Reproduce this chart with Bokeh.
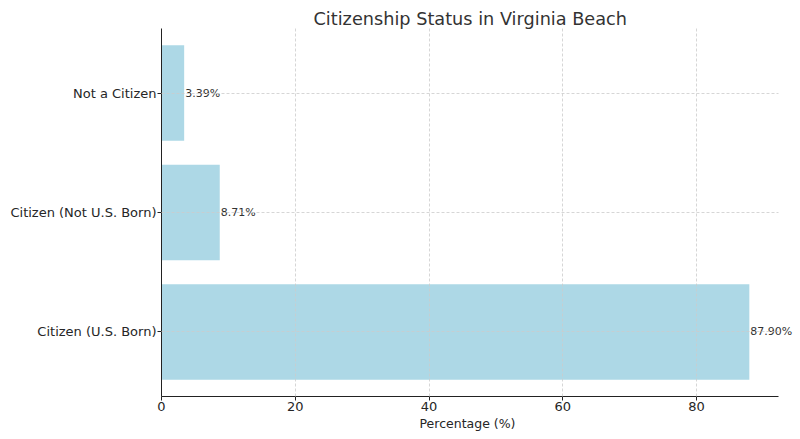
from bokeh.plotting import figure
from bokeh.models import FactorRange, Range1d, ColumnDataSource, FixedTicker, LabelSet, Title
from bokeh.core.properties import value
from bokeh.embed import file_html
from bokeh.resources import INLINE

categories = ["Citizen (U.S. Born)", "Citizen (Not U.S. Born)", "Not a Citizen"]
percentages = [87.90, 8.71, 3.39]
labels = ["87.90%", "8.71%", "3.39%"]
x_ticks = [0, 20, 40, 60, 80]
title_text = "Citizenship Status in Virginia Beach"
x_label = "Percentage (%)"

FONT = "DejaVu Sans"
X_MAX = 92.3

src = ColumnDataSource(dict(cat=categories, pct=percentages, lab=labels))

yr = FactorRange(factors=categories, range_padding=0.04, range_padding_units="absolute")
p = figure(width=800, height=439, y_range=yr, x_range=Range1d(0, 95.55),
           output_backend="svg", toolbar_location=None,
           min_border_left=161, min_border_right=0, min_border_top=28, min_border_bottom=43)

p.hbar(y="cat", right="pct", left=0, height=0.8, source=src,
       fill_color="#ADD8E6", line_color=None)
p.add_layout(LabelSet(x="pct", y="cat", text="lab", source=src, x_offset=1,
                      text_align="left", text_baseline="middle", text_font=value(FONT),
                      text_font_size="11px", text_color="#333333"))

p.title.text = title_text
p.title.align = "left"
p.title.text_font = FONT
p.title.text_font_size = "17.7px"
p.title.text_font_style = "normal"
p.title.text_color = "#333333"
p.title.standoff = 0
p.title.text_line_height = 1.0
p.title.offset = 152

p.add_layout(Title(text=x_label, align="left", offset=258, text_font=FONT,
                   text_font_size="12.5px", text_font_style="normal",
                   text_color="#262626", standoff=0, text_line_height=1.0), "below")

p.xaxis.ticker = FixedTicker(ticks=x_ticks)
p.xaxis.bounds = (0, X_MAX)
for ax in (p.xaxis, p.yaxis):
    ax.major_label_text_font = FONT
    ax.major_label_text_font_size = "13px"
    ax.major_label_text_color = "#262626"
    ax.axis_line_color = "#222222"
    ax.axis_line_width = 1
    ax.major_tick_line_color = "#222222"
    ax.major_tick_out = 4
    ax.major_tick_in = 0
    ax.minor_tick_line_color = None
p.xaxis.major_label_standoff = 1
p.yaxis.major_label_standoff = 1

p.outline_line_color = None
for g in (p.xgrid, p.ygrid):
    g.grid_line_color = "#cccccc"
    g.grid_line_dash = "3 2"
    g.grid_line_width = 0.8
    g.level = "overlay"
p.ygrid.cross_bounds = (0, X_MAX)

open("out.html", "w").write(file_html(p, INLINE))
